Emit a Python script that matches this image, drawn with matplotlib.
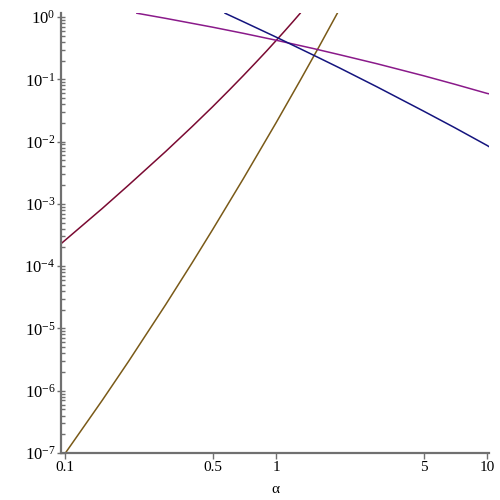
import matplotlib
matplotlib.use("Agg")
import matplotlib.pyplot as plt
from matplotlib.ticker import LogLocator, NullLocator, FixedLocator, FixedFormatter, NullFormatter

plt.rcParams['font.family'] = ['Liberation Serif', 'DejaVu Serif']
plt.rcParams['mathtext.fontset'] = 'custom'
plt.rcParams['mathtext.rm'] = 'Liberation Serif'
plt.rcParams['mathtext.it'] = 'Liberation Serif:italic'

# curve values (log-log axes)
red_x = [0.0957, 0.15, 0.2, 0.3, 0.4, 0.5, 0.6, 0.7, 0.8, 0.9, 1.0, 1.1, 1.2, 1.3]
red_y = [2.29e-4, 8.42e-4, 2.0e-3, 6.95e-3, 0.0174, 0.0362, 0.0673, 0.115, 0.185,
         0.283, 0.419, 0.600, 0.838, 1.146]

brown_x = [0.1, 0.15, 0.2, 0.3, 0.4, 0.5, 0.7, 1.0, 1.3, 1.6, 1.95]
brown_y = [9.8e-8, 7.0e-7, 2.96e-6, 2.42e-5, 1.13e-4, 3.85e-4, 2.55e-3, 0.0201, 0.0958, 0.337, 1.15]

purple_x = [0.219, 0.3, 0.5, 0.7, 1.0, 1.5, 2.0, 3.0, 5.0, 7.0, 10.0, 10.2]
purple_y = [1.15, 0.951, 0.687, 0.547, 0.424, 0.312, 0.248, 0.178, 0.114, 0.0835, 0.0593, 0.0585]

blue_x = [0.573, 0.7, 1.0, 1.5, 2.0, 3.0, 5.0, 7.0, 10.0, 10.2]
blue_y = [1.15, 0.839, 0.476, 0.245, 0.152, 0.0759, 0.0308, 0.0168, 0.00865, 0.0083]

x_ticks = [0.1, 0.5, 1, 5, 10]
x_tick_labels = ['0.1', '0.5', '1', '5', '10']
y_ticks = [1e-7, 1e-6, 1e-5, 1e-4, 1e-3, 1e-2, 1e-1, 1]
y_tick_labels = ['$10^{-7}$', '$10^{-6}$', '$10^{-5}$', '$10^{-4}$',
                 '$10^{-3}$', '$10^{-2}$', '$10^{-1}$', '$10^{0}$']

fig = plt.figure(figsize=(5, 5), dpi=100)
ax = fig.add_axes([0.122, 0.094, 0.856, 0.880])

ax.plot(red_x, red_y, color='#7a0a32', lw=1.1)
ax.plot(brown_x, brown_y, color='#7a5a18', lw=1.1)
ax.plot(purple_x, purple_y, color='#8a1a8a', lw=1.1)
ax.plot(blue_x, blue_y, color='#14147e', lw=1.1)

ax.set_xscale('log')
ax.set_yscale('log')
ax.set_xlim(0.0957, 10.2)
ax.set_ylim(1e-7, 1.16)

ax.xaxis.set_major_locator(FixedLocator(x_ticks))
ax.xaxis.set_major_formatter(FixedFormatter(x_tick_labels))
ax.xaxis.set_minor_locator(NullLocator())
ax.yaxis.set_major_locator(FixedLocator(y_ticks))
ax.yaxis.set_major_formatter(FixedFormatter(y_tick_labels))
ax.yaxis.set_minor_locator(LogLocator(base=10, subs=range(2, 10)))
ax.yaxis.set_minor_formatter(NullFormatter())

for side in ['top', 'right']:
    ax.spines[side].set_visible(False)
for side in ['left', 'bottom']:
    ax.spines[side].set_color('#707070')
    ax.spines[side].set_linewidth(1.6)

ax.tick_params(axis='x', direction='out', length=4, width=1, color='#707070',
               labelsize=11, pad=2)
ax.tick_params(axis='y', which='major', direction='inout', length=6, width=1,
               color='#707070', labelsize=12, pad=1)
ax.tick_params(axis='y', which='minor', direction='in', length=3, width=1,
               color='#707070')

ax.set_xlabel('α', fontsize=11, labelpad=6)

fig.savefig('out.png', dpi=100)
